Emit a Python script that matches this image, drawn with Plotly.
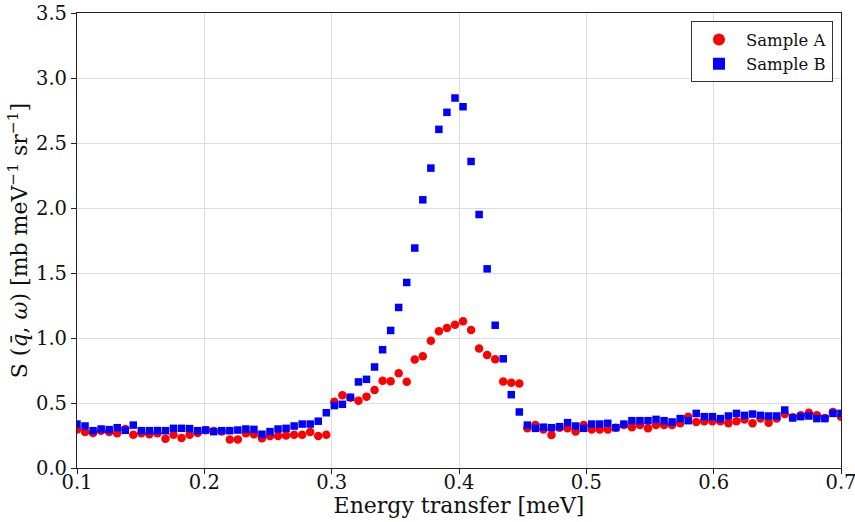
import numpy as np
import plotly.graph_objects as go

# Energy grid (meV): 96 evenly spaced channels from 0.1 to 0.7
energy = np.linspace(0.1, 0.7, 96)

# Dynamic structure factor, Sample A
sample_a = [
    0.297, 0.277, 0.270, 0.287, 0.277, 0.267, 0.300, 0.256, 0.267, 0.260,
    0.267, 0.225, 0.256, 0.230, 0.256, 0.270, 0.290, 0.285, 0.280, 0.220,
    0.220, 0.267, 0.260, 0.228, 0.246, 0.246, 0.250, 0.256, 0.256, 0.277,
    0.246, 0.256, 0.510, 0.559, 0.540, 0.518, 0.549, 0.600, 0.672, 0.667,
    0.728, 0.664, 0.835, 0.860, 0.978, 1.052, 1.077, 1.102, 1.128, 1.061,
    0.920, 0.869, 0.836, 0.665, 0.655, 0.650, 0.305, 0.330, 0.297, 0.254,
    0.310, 0.305, 0.280, 0.330, 0.297, 0.297, 0.297, 0.310, 0.330, 0.313,
    0.330, 0.305, 0.331, 0.331, 0.331, 0.344, 0.395, 0.354, 0.359, 0.359,
    0.359, 0.344, 0.359, 0.374, 0.344, 0.380, 0.349, 0.380, 0.415, 0.390,
    0.405, 0.425, 0.405, 0.385, 0.430, 0.395,
]

# Dynamic structure factor, Sample B
sample_b = [
    0.338, 0.323, 0.287, 0.300, 0.295, 0.310, 0.290, 0.330, 0.287, 0.287,
    0.288, 0.287, 0.305, 0.305, 0.303, 0.287, 0.292, 0.280, 0.287, 0.287,
    0.292, 0.300, 0.297, 0.260, 0.280, 0.300, 0.305, 0.323, 0.338, 0.338,
    0.360, 0.425, 0.480, 0.490, 0.544, 0.662, 0.682, 0.777, 0.910, 1.058,
    1.235, 1.427, 1.692, 2.063, 2.307, 2.605, 2.736, 2.846, 2.779, 2.358,
    1.950, 1.532, 1.098, 0.840, 0.564, 0.431, 0.330, 0.305, 0.314, 0.310,
    0.318, 0.349, 0.323, 0.305, 0.338, 0.338, 0.344, 0.310, 0.338, 0.364,
    0.364, 0.364, 0.374, 0.364, 0.354, 0.380, 0.364, 0.420, 0.395, 0.395,
    0.380, 0.400, 0.420, 0.405, 0.415, 0.405, 0.400, 0.400, 0.446, 0.385,
    0.395, 0.400, 0.380, 0.380, 0.420, 0.420,
]

x_ticks = [0.1, 0.2, 0.3, 0.4, 0.5, 0.6, 0.7]
y_ticks = [0.0, 0.5, 1.0, 1.5, 2.0, 2.5, 3.0, 3.5]

FONT = "DejaVu Serif"
AXIS_COLOR = "#222222"
GRID_COLOR = "#dcdcdc"

fig = go.Figure()
fig.add_trace(go.Scatter(
    x=energy, y=sample_a, mode="markers", name="Sample A",
    marker=dict(symbol="circle", size=8.5, color="#ff0000", line=dict(width=0)),
))
fig.add_trace(go.Scatter(
    x=energy, y=sample_b, mode="markers", name="Sample B",
    marker=dict(symbol="square", size=7.5, color="#0000ff", line=dict(width=0)),
))

axis_common = dict(
    showline=True, linecolor=AXIS_COLOR, linewidth=1.2, mirror=True,
    showgrid=True, gridcolor=GRID_COLOR, gridwidth=1,
    ticks="outside", ticklen=5, tickwidth=1.2, tickcolor=AXIS_COLOR,
    tickfont=dict(family=FONT, size=19.5, color="#111111"),
    zeroline=False, ticklabeloverflow="allow",
)

fig.update_xaxes(
    range=[0.1, 0.7], tickvals=x_ticks, ticktext=[f"{v:.1f}" for v in x_ticks],
    ticklabelstandoff=-9,
    title=dict(text="Energy transfer [meV]", font=dict(family=FONT, size=22, color="#111111"), standoff=2),
    **axis_common,
)
fig.update_yaxes(
    range=[0.0, 3.5], tickvals=y_ticks, ticktext=[f"{v:.1f}" for v in y_ticks],
    title=dict(
        text="S (<i>q\u0304</i>, <i>\u03c9</i>) [mb meV<sup>\u22121</sup> sr<sup>\u22121</sup>]",
        font=dict(family=FONT, size=22, color="#111111"), standoff=2,
    ),
    **axis_common,
)

fig.update_layout(
    width=855, height=522,
    margin=dict(l=77, r=14, t=13, b=54, autoexpand=False),
    plot_bgcolor="white", paper_bgcolor="white",
    showlegend=True,
    legend=dict(
        x=0.9895, y=0.982, xanchor="right", yanchor="top",
        bgcolor="rgba(255,255,255,0.85)", bordercolor="#333333", borderwidth=1,
        font=dict(family=FONT, size=16.5, color="#111111"),
        itemsizing="constant", itemwidth=44,
    ),
)

fig.write_html("out.html")
